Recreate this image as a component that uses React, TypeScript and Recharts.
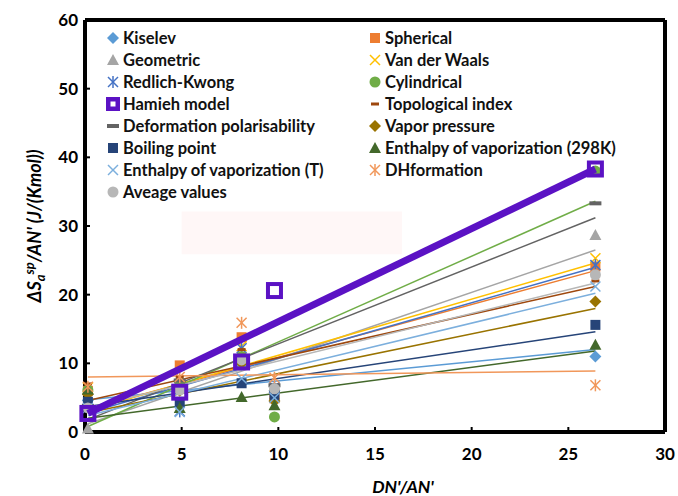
import React from 'react';
import { ScatterChart, Scatter, XAxis, YAxis, ReferenceLine, ReferenceArea, Legend } from 'recharts';

// DN'/AN' of the polar probes
const xValues = [0.15, 4.9, 8.1, 9.8, 26.4];
const trendX = [0.15, 26.4];

const xTicks = [0, 5, 10, 15, 20, 25, 30];
const yTicks = [0, 10, 20, 30, 40, 50, 60];

// points per model, one value for each x above
const kiselev = [4.6, 7.5, 9.8, 6.0, 11.0];
const spherical = [6.0, 9.7, 13.8, 4.9, 24.1];
const geometric = [0.5, 6.8, 10.8, 6.4, 28.7];
const vanDerWaals = [6.5, 7.0, 12.5, 5.5, 25.3];
const redlichKwong = [4.0, 3.0, 12.2, 6.5, 24.3];
const cylindrical = [6.1, 7.2, 11.0, 2.2, 38.0];
const hamieh = [2.7, 5.8, 10.2, 20.6, 38.3];
const topological = [7.0, 8.0, 12.0, 5.5, 22.0];
const deformation = [3.8, 7.5, 10.8, 6.8, 33.3];
const vaporPressure = [5.5, 6.0, 10.0, 4.5, 19.0];
const boilingPoint = [4.4, 4.4, 7.1, 5.4, 15.6];
const enthalpy298 = [6.2, 3.5, 5.1, 3.9, 12.7];
const enthalpyT = [3.5, 2.9, 7.8, 5.0, 21.2];
const dhFormation = [6.6, 8.0, 15.9, 7.9, 6.8];
const average = [3.5, 6.1, 10.5, 6.3, 22.9];

// linear trendlines, value at first and last x
const kiselevTrend = [4.7, 12.0];
const sphericalTrend = [3.3, 23.5];
const geometricTrend = [1.2, 26.5];
const vanDerWaalsTrend = [3.1, 24.6];
const redlichKwongTrend = [2.8, 24.0];
const cylindricalTrend = [0.8, 33.6];
const hamiehTrend = [2.7, 38.3];
const topologicalTrend = [4.6, 21.2];
const deformationTrend = [1.8, 31.2];
const vaporPressureTrend = [2.8, 18.0];
const boilingPointTrend = [3.7, 14.6];
const enthalpy298Trend = [2.0, 11.8];
const enthalpyTTrend = [2.4, 20.2];
const dhFormationTrend = [8.0, 8.9];
const averageTrend = [3.5, 21.7];

const PURPLE = '#5B12C4';

type Kind = 'diamond' | 'square' | 'triangle' | 'x' | 'asterisk' | 'circle' | 'open' | 'dash' | 'wideDash';

const series: { name: string; values: number[]; trend: number[]; color: string; kind: Kind }[] = [
  { name: 'Kiselev', values: kiselev, trend: kiselevTrend, color: '#5B9BD5', kind: 'diamond' },
  { name: 'Spherical', values: spherical, trend: sphericalTrend, color: '#ED7D31', kind: 'square' },
  { name: 'Geometric', values: geometric, trend: geometricTrend, color: '#A5A5A5', kind: 'triangle' },
  { name: 'Van der Waals', values: vanDerWaals, trend: vanDerWaalsTrend, color: '#FFC000', kind: 'x' },
  { name: 'Redlich-Kwong', values: redlichKwong, trend: redlichKwongTrend, color: '#4472C4', kind: 'asterisk' },
  { name: 'Cylindrical', values: cylindrical, trend: cylindricalTrend, color: '#70AD47', kind: 'circle' },
  { name: 'Hamieh model', values: hamieh, trend: hamiehTrend, color: PURPLE, kind: 'open' },
  { name: 'Topological index', values: topological, trend: topologicalTrend, color: '#9E480E', kind: 'dash' },
  { name: 'Deformation polarisability', values: deformation, trend: deformationTrend, color: '#636363', kind: 'wideDash' },
  { name: 'Vapor pressure', values: vaporPressure, trend: vaporPressureTrend, color: '#997300', kind: 'diamond' },
  { name: 'Boiling point', values: boilingPoint, trend: boilingPointTrend, color: '#264478', kind: 'square' },
  { name: 'Enthalpy of vaporization (298K)', values: enthalpy298, trend: enthalpy298Trend, color: '#43682B', kind: 'triangle' },
  { name: 'Enthalpy of vaporization (T)', values: enthalpyT, trend: enthalpyTTrend, color: '#7CAFDD', kind: 'x' },
  { name: 'DHformation', values: dhFormation, trend: dhFormationTrend, color: '#F1975A', kind: 'asterisk' },
  { name: 'Aveage values', values: average, trend: averageTrend, color: '#B7B7B7', kind: 'circle' },
];

function Marker({ kind, cx, cy, color }: { kind: Kind; cx: number; cy: number; color: string }) {
  switch (kind) {
    case 'diamond':
      return <path d={`M${cx},${cy - 6}L${cx + 6},${cy}L${cx},${cy + 6}L${cx - 6},${cy}Z`} fill={color} />;
    case 'square':
      return <rect x={cx - 5} y={cy - 5} width={10} height={10} fill={color} />;
    case 'triangle':
      return <path d={`M${cx},${cy - 6}L${cx + 6},${cy + 5}L${cx - 6},${cy + 5}Z`} fill={color} />;
    case 'x':
      return (
        <g stroke={color} strokeWidth={1.5}>
          <line x1={cx - 5} y1={cy - 5} x2={cx + 5} y2={cy + 5} />
          <line x1={cx - 5} y1={cy + 5} x2={cx + 5} y2={cy - 5} />
        </g>
      );
    case 'asterisk':
      return (
        <g stroke={color} strokeWidth={1.5}>
          <line x1={cx - 5} y1={cy - 5} x2={cx + 5} y2={cy + 5} />
          <line x1={cx - 5} y1={cy + 5} x2={cx + 5} y2={cy - 5} />
          <line x1={cx} y1={cy - 6} x2={cx} y2={cy + 6} />
        </g>
      );
    case 'circle':
      return <circle cx={cx} cy={cy} r={5.5} fill={color} />;
    case 'open':
      return <rect x={cx - 6.5} y={cy - 6.5} width={13} height={13} fill="none" stroke={color} strokeWidth={4} />;
    case 'dash':
      return <rect x={cx - 4} y={cy - 1.5} width={8} height={3} fill={color} />;
    case 'wideDash':
      return <rect x={cx - 6} y={cy - 2} width={12} height={4} fill={color} />;
  }
  return null;
}

function LegendIcon({ kind, color }: { kind: Kind; color: string }) {
  return (
    <svg width={14} height={14} style={{ display: 'block' }}>
      {kind === 'open' ? (
        <g>
          <rect x={0} y={0} width={14} height={14} fill={color} />
          <rect x={4.5} y={4.5} width={5} height={5} fill="#fff" />
        </g>
      ) : (
        <Marker kind={kind} cx={7} cy={7} color={color} />
      )}
    </svg>
  );
}

function LegendBlock() {
  return (
    <div style={{ position: 'relative', width: 678, height: 200 }}>
      {series.map((s, i) => {
        const col = i % 2;
        const row = Math.floor(i / 2);
        return (
          <div
            key={s.name}
            style={{
              position: 'absolute',
              left: col === 0 ? 106 : 368,
              top: 27 + row * 22,
              height: 22,
              display: 'flex',
              alignItems: 'center',
              whiteSpace: 'nowrap',
              fontFamily: 'Lato',
              fontWeight: 'bold',
              fontSize: 16.5,
              color: '#111',
            }}
          >
            <LegendIcon kind={s.kind} color={s.color} />
            <span style={{ marginLeft: 3 }}>{s.name}</span>
          </div>
        );
      })}
    </div>
  );
}

const YLabel = () => (
  <text
    x={41}
    y={226}
    transform="rotate(-90 41 226)"
    textAnchor="middle"
    fontFamily="Lato"
    fontWeight="bold"
    fontStyle="italic"
    fontSize={18}
    fill="#000"
  >
    <tspan>ΔS</tspan>
    <tspan dy={4} fontSize={13}>a</tspan>
    <tspan dy={-11} fontSize={13}>sp</tspan>
    <tspan dy={7}>/AN' (J/(Kmol))</tspan>
  </text>
);

const XLabel = () => (
  <text x={403} y={493} textAnchor="middle" fontFamily="Lato" fontWeight="bold" fontStyle="italic" fontSize={17.5} fill="#000">
    DN'/AN'
  </text>
);

const tickStyle = { fill: '#000', fontSize: 17, fontWeight: 'bold', fontFamily: 'Lato' };

export default function App() {
  const points = (values: number[]) => values.map((y, i) => ({ x: xValues[i], y }));
  const trendPoints = (trend: number[]) => trend.map((y, i) => ({ x: trendX[i], y }));
  const thin = series.filter((s) => s.kind !== 'open');
  const ham = series.find((s) => s.kind === 'open')!;

  return (
    <div style={{ position: 'absolute', left: 0, top: 0, background: '#fff' }}>
      <ScatterChart width={678} height={496} margin={{ top: 20, right: 13, left: 0, bottom: 0 }} style={{ fontFamily: 'Lato' }}>
        <ReferenceArea x1={5} x2={16.4} y1={25.9} y2={32.1} fill="#FFF7F7" fillOpacity={1} stroke="none" />
        <XAxis
          type="number"
          dataKey="x"
          domain={[0, 30]}
          ticks={xTicks}
          height={64}
          axisLine={{ stroke: '#000', strokeWidth: 4 }}
          tickLine={{ stroke: '#000', strokeWidth: 2 }}
          tickSize={-5}
          tickMargin={21}
          tick={tickStyle}
          label={<XLabel />}
        />
        <YAxis
          type="number"
          dataKey="y"
          domain={[0, 60]}
          ticks={yTicks}
          width={85}
          axisLine={{ stroke: '#000', strokeWidth: 4 }}
          tickLine={{ stroke: '#000', strokeWidth: 2 }}
          tickSize={-5}
          tickMargin={12}
          tick={tickStyle}
          label={<YLabel />}
        />
        <ReferenceLine y={60} stroke="#000" strokeWidth={4} />
        <ReferenceLine x={30} stroke="#000" strokeWidth={4} />
        {thin.map((s) => (
          <Scatter
            key={s.name + '-trend'}
            data={trendPoints(s.trend)}
            line={{ stroke: s.color, strokeWidth: 1.5 }}
            shape={() => <g />}
            legendType="none"
            isAnimationActive={false}
          />
        ))}
        {thin.map((s) => (
          <Scatter
            key={s.name}
            name={s.name}
            data={points(s.values)}
            shape={(p: any) => <Marker kind={s.kind} cx={p.cx} cy={p.cy} color={s.color} />}
            isAnimationActive={false}
          />
        ))}
        <Scatter
          data={trendPoints(ham.trend)}
          line={{ stroke: PURPLE, strokeWidth: 7 }}
          shape={() => <g />}
          legendType="none"
          isAnimationActive={false}
        />
        <Scatter
          name={ham.name}
          data={points(ham.values)}
          shape={(p: any) => <Marker kind="open" cx={p.cx} cy={p.cy} color={PURPLE} />}
          isAnimationActive={false}
        />
        <Legend
          layout="horizontal"
          verticalAlign="middle"
          align="center"
          content={() => <LegendBlock />}
          wrapperStyle={{ left: 0, top: 0, width: 678, height: 200 }}
        />
      </ScatterChart>
    </div>
  );
}
